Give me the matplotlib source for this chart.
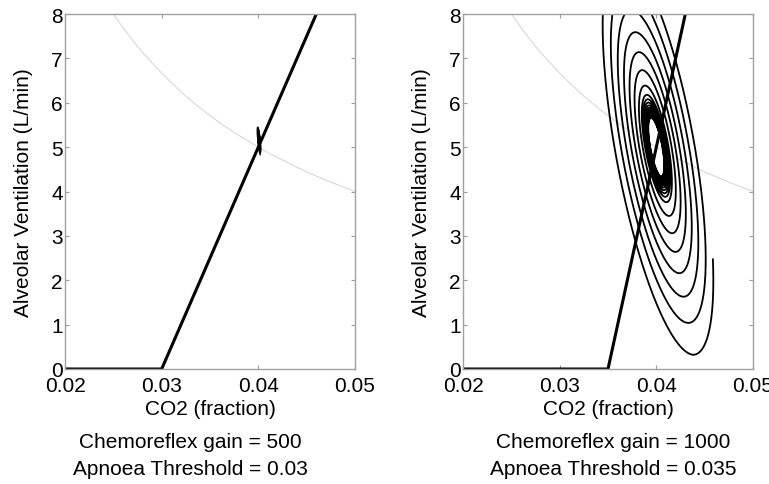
import numpy as np
import matplotlib
matplotlib.use("Agg")
from matplotlib import pyplot as plt

plt.rcParams["font.family"] = ["Liberation Sans", "DejaVu Sans"]

# metabolic hyperbola (grey)
co2_metab = [0.025, 0.0262, 0.0275, 0.0287, 0.03, 0.0312, 0.0325, 0.0337, 0.035,
             0.0362, 0.0375, 0.0387, 0.04, 0.0412, 0.0425, 0.0437, 0.045,
             0.0462, 0.0475, 0.0487, 0.05]
vent_metab = [8.0, 7.63, 7.27, 6.97, 6.67, 6.41, 6.15, 5.93, 5.71,
              5.52, 5.33, 5.17, 5.0, 4.85, 4.71, 4.58, 4.44,
              4.33, 4.21, 4.11, 4.0]

# chemoreflex lines (thick black)
chemo_x_left = [0.02, 0.03, 0.046]
chemo_y_left = [0.0, 0.0, 8.0]
chemo_x_right = [0.02, 0.035, 0.043]
chemo_y_right = [0.0, 0.0, 8.0]

# lowest ventilation reached by each loop of the trajectory, outer -> inner
loop_min_left = [4.82, 4.88, 4.93, 4.97, 5.0]
loop_min_right = [0.32, 1.04, 1.63, 2.16, 2.64, 3.06, 3.45, 3.76, 3.88, 3.96,
                  4.03, 4.09, 4.14, 4.18, 4.22, 4.25, 4.28, 4.31, 4.33, 4.35]

x_ticks = [0.02, 0.03, 0.04, 0.05]
y_ticks = [0, 1, 2, 3, 4, 5, 6, 7, 8]
captions_top = ["Chemoreflex gain = 500", "Chemoreflex gain = 1000"]
captions_bottom = ["Apnoea Threshold = 0.03", "Apnoea Threshold = 0.035"]

FS = 15


def spiral(ax, cx, cy, loop_min, kx, delta, end_frac, lw):
    amps = cy - np.array(loop_min[::-1])
    n = len(amps)
    theta = np.linspace(0, n - 1 + end_frac, 9000)
    amp = np.exp(np.interp(theta, np.arange(n), np.log(amps)))
    d = np.radians(delta)
    phi = d + np.pi / 2 - 2 * np.pi * theta
    x = cx + kx * amp * np.sin(phi)
    y = cy - amp * np.sin(phi - d)
    ax.plot(x, y, color="black", lw=lw, solid_capstyle="butt")


def style_axes(ax):
    ax.set_xlim(0.02, 0.05)
    ax.set_ylim(0, 8)
    ax.set_xticks(x_ticks)
    ax.set_xticklabels(["0.02", "0.03", "0.04", "0.05"])
    ax.set_yticks(y_ticks)
    ax.tick_params(direction="in", length=3, width=0.8, color="#9a9a9a",
                   top=True, right=True, labelsize=FS)
    ax.tick_params(axis="x", pad=5)
    ax.tick_params(axis="y", pad=1.5)
    for s in ax.spines.values():
        s.set_color("#a0a0a0")
        s.set_linewidth(1.0)
    ax.set_xlabel("CO2 (fraction)", fontsize=FS, labelpad=3)
    ax.set_ylabel("Alveolar Ventilation (L/min)", fontsize=FS, labelpad=13)


fig = plt.figure(figsize=(7.69, 4.85), dpi=100)
ax1 = fig.add_axes([65 / 769, 115 / 485, 290 / 769, 355 / 485])
ax2 = fig.add_axes([463 / 769, 115 / 485, 290 / 769, 355 / 485])

for ax, cx, cy in [(ax1, chemo_x_left, chemo_y_left), (ax2, chemo_x_right, chemo_y_right)]:
    ax.plot(co2_metab, vent_metab, color="#d8d8d8", lw=0.8)
    ax.plot(cx, cy, color="black", lw=2.2, solid_joinstyle="miter")
    style_axes(ax)

spiral(ax1, 0.04008, 5.15, loop_min_left, 0.0006, 40, 0.0, 1.1)
spiral(ax2, 0.04, 5.0, loop_min_right, 0.00126, 50, 0.16, 1.3)

for cxp, top, bot in [(190, captions_top[0], captions_bottom[0]),
                      (613, captions_top[1], captions_bottom[1])]:
    fig.text(cxp / 769, 1 - 443 / 485, top, ha="center", va="center", fontsize=FS)
    fig.text(cxp / 769, 1 - 470 / 485, bot, ha="center", va="center", fontsize=FS)

fig.savefig("out.png", dpi=100)
